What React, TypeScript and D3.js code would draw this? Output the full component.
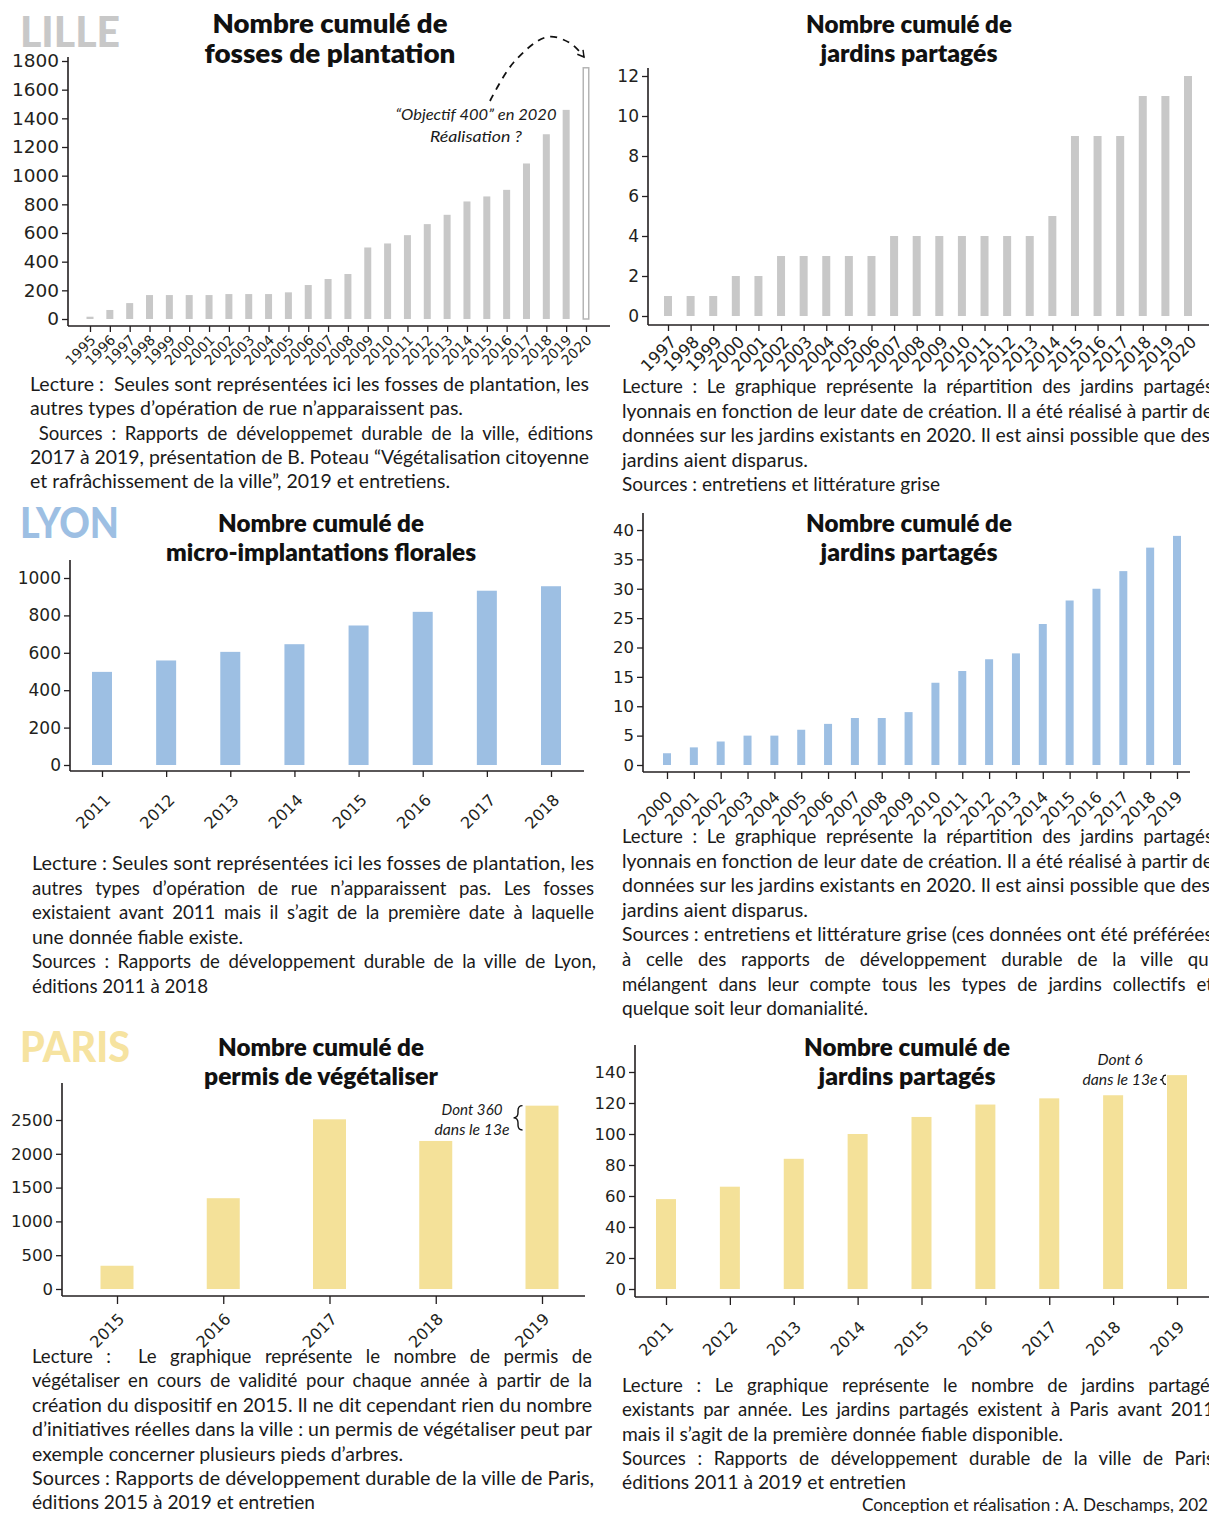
import React, { useEffect, useRef } from "react";
import * as d3 from "d3";

const W = 1209;
const H = 1513;

const TEXT_FONT = "Lato, 'Open Sans', sans-serif";
const TICK_FONT = "'DejaVu Sans', Verdana, sans-serif";
const INK = "#231f20";

const GREY = "#c8c8c8";
const BLUE = "#9dbfe3";
const YELLOW = "#f4e199";

// ---- data -------------------------------------------------------------
const lilleFossesYears = ["1995", "1996", "1997", "1998", "1999", "2000", "2001", "2002", "2003", "2004", "2005", "2006", "2007", "2008", "2009", "2010", "2011", "2012", "2013", "2014", "2015", "2016", "2017", "2018", "2019", "2020"];
const lilleFossesValues = [16, 63, 111, 167, 167, 167, 167, 174, 174, 174, 186, 237, 279, 314, 499, 527, 585, 662, 727, 820, 855, 901, 1085, 1289, 1459, 1758];
const lilleFossesTicks = [0, 200, 400, 600, 800, 1000, 1200, 1400, 1600, 1800];
const lilleFossesProjected = ["2020"];

const lilleJardinsYears = ["1997", "1998", "1999", "2000", "2001", "2002", "2003", "2004", "2005", "2006", "2007", "2008", "2009", "2010", "2011", "2012", "2013", "2014", "2015", "2016", "2017", "2018", "2019", "2020"];
const lilleJardinsValues = [1, 1, 1, 2, 2, 3, 3, 3, 3, 3, 4, 4, 4, 4, 4, 4, 4, 5, 9, 9, 9, 11, 11, 12];
const lilleJardinsTicks = [0, 2, 4, 6, 8, 10, 12];

const lyonMicroYears = ["2011", "2012", "2013", "2014", "2015", "2016", "2017", "2018"];
const lyonMicroValues = [498, 559, 605, 646, 746, 819, 932, 956];
const lyonMicroTicks = [0, 200, 400, 600, 800, 1000];

const lyonJardinsYears = ["2000", "2001", "2002", "2003", "2004", "2005", "2006", "2007", "2008", "2009", "2010", "2011", "2012", "2013", "2014", "2015", "2016", "2017", "2018", "2019"];
const lyonJardinsValues = [2, 3, 4, 5, 5, 6, 7, 8, 8, 9, 14, 16, 18, 19, 24, 28, 30, 33, 37, 39];
const lyonJardinsTicks = [0, 5, 10, 15, 20, 25, 30, 35, 40];

const parisPermisYears = ["2015", "2016", "2017", "2018", "2019"];
const parisPermisValues = [344, 1343, 2510, 2190, 2712];
const parisPermisTicks = [0, 500, 1000, 1500, 2000, 2500];
const parisPermis13e = 360;

const parisJardinsYears = ["2011", "2012", "2013", "2014", "2015", "2016", "2017", "2018", "2019"];
const parisJardinsValues = [58, 66, 84, 100, 111, 119, 123, 125, 138];
const parisJardinsTicks = [0, 20, 40, 60, 80, 100, 120, 140];
const parisJardins13e = 6;

// ---- texts ------------------------------------------------------------
const lilleFossesTitle = ["Nombre cumulé de", "fosses de plantation"];
const jardinsTitle = ["Nombre cumulé de", "jardins partagés"];
const lyonMicroTitle = ["Nombre cumulé de", "micro-implantations florales"];
const parisPermisTitle = ["Nombre cumulé de", "permis de végétaliser"];

const lilleFossesNote = [
  "Lecture :  Seules sont représentées ici les fosses de plantation, les",
  "autres types d’opération de rue n’apparaissent pas.",
  " Sources : Rapports de développemet durable de la ville, éditions",
  "2017 à 2019, présentation de B. Poteau “Végétalisation citoyenne",
  "et rafrâchissement de la ville”, 2019 et entretiens.",
];
const lyonJardinsCore = [
  "Lecture : Le graphique représente la répartition des jardins partagés",
  "lyonnais en fonction de leur date de création. Il a été réalisé à partir de",
  "données sur les jardins existants en 2020. Il est ainsi possible que des",
  "jardins aient disparus.",
];
const lilleJardinsNote = [...lyonJardinsCore, "Sources : entretiens et littérature grise"];
const lyonMicroNote = [
  "Lecture : Seules sont représentées ici les fosses de plantation, les",
  "autres types d’opération de rue n’apparaissent pas. Les fosses",
  "existaient avant 2011 mais il s’agit de la première date à laquelle",
  "une donnée fiable existe.",
  "Sources : Rapports de développement durable de la ville de Lyon,",
  "éditions 2011 à 2018",
];
const lyonJardinsNote = [
  ...lyonJardinsCore,
  "Sources : entretiens et littérature grise (ces données ont été préférées",
  "à celle des rapports de développement durable de la ville qui",
  "mélangent dans leur compte tous les types de jardins collectifs et",
  "quelque soit leur domanialité.",
];
const parisPermisNote = [
  "Lecture :  Le graphique représente le nombre de permis de",
  "végétaliser en cours de validité pour chaque année à partir de la",
  "création du dispositif en 2015. Il ne dit cependant rien du nombre",
  "d’initiatives réelles dans la ville : un permis de végétaliser peut par",
  "exemple concerner plusieurs pieds d’arbres.",
  "Sources : Rapports de développement durable de la ville de Paris,",
  "éditions 2015 à 2019 et entretien",
];
const parisJardinsNote = [
  "Lecture : Le graphique représente le nombre de jardins partagés",
  "existants par année. Les jardins partagés existent à Paris avant 2011",
  "mais il s’agit de la première donnée fiable disponible.",
  "Sources : Rapports de développement durable de la ville de Paris",
  "éditions 2011 à 2019 et entretien",
];
const credit = "Conception et réalisation : A. Deschamps, 2021";

// ---- layout -----------------------------------------------------------
type Layout = {
  axisX: number; axisTop: number; baseY: number; topPx: number;
  xAxisY: number; xAxisEnd: number; firstX: number; lastX: number; barW: number;
  yFont: number; xFont: number; xTick: number; ldx: number; ldy: number;
};

const L1: Layout = { axisX: 68, axisTop: 57, baseY: 319, topPx: 61, xAxisY: 326, xAxisEnd: 610, firstX: 90, lastX: 586, barW: 7, yFont: 18.5, xFont: 14, xTick: 6, ldx: 6, ldy: 15 };
const L2: Layout = { axisX: 648, axisTop: 68, baseY: 316, topPx: 76, xAxisY: 325, xAxisEnd: 1209, firstX: 668, lastX: 1188, barW: 8, yFont: 17, xFont: 16.5, xTick: 6, ldx: 9, ldy: 18 };
const L3: Layout = { axisX: 70, axisTop: 560, baseY: 765, topPx: 578, xAxisY: 771, xAxisEnd: 584, firstX: 102, lastX: 551, barW: 20, yFont: 17, xFont: 16, xTick: 6, ldx: 9, ldy: 30 };
const L4: Layout = { axisX: 643, axisTop: 513, baseY: 765, topPx: 530, xAxisY: 772, xAxisEnd: 1190, firstX: 667, lastX: 1177, barW: 8, yFont: 16.5, xFont: 16, xTick: 7, ldx: 6, ldy: 26 };
const L5: Layout = { axisX: 62, axisTop: 1083, baseY: 1289, topPx: 1120, xAxisY: 1296, xAxisEnd: 585, firstX: 117, lastX: 542, barW: 33, yFont: 16.5, xFont: 16, xTick: 8, ldx: 8, ldy: 24 };
const L6: Layout = { axisX: 635, axisTop: 1045, baseY: 1289, topPx: 1072, xAxisY: 1297, xAxisEnd: 1209, firstX: 666, lastX: 1177, barW: 20, yFont: 16.5, xFont: 16, xTick: 8, ldx: 8, ldy: 31 };

function makeScales(years: string[], ticks: number[], L: Layout) {
  const x = d3.scalePoint<string>().domain(years).range([L.firstX, L.lastX]);
  const y = d3.scaleLinear().domain([0, ticks[ticks.length - 1]]).range([L.baseY, L.topPx]);
  return { x, y };
}

type ChartProps = {
  years: string[];
  values: number[];
  ticks: number[];
  color: string;
  L: Layout;
  outlined?: string[];
};

function BarChart({ years, values, ticks, color, L, outlined = [] }: ChartProps) {
  const yRef = useRef<SVGGElement>(null);
  const xRef = useRef<SVGGElement>(null);
  const { x, y } = makeScales(years, ticks, L);

  useEffect(() => {
    const gy = d3.select(yRef.current!);
    gy.call(d3.axisLeft(y).tickValues(ticks).tickSize(6).tickPadding(3).tickFormat(d3.format("d")) as any);
    gy.select(".domain").remove();
    gy.attr("font-family", TICK_FONT).attr("font-size", L.yFont);
    gy.selectAll("line").attr("stroke", INK).attr("stroke-width", 1.3);
    gy.selectAll("text").attr("fill", INK);

    const gx = d3.select(xRef.current!);
    gx.call(d3.axisBottom(x).tickSize(L.xTick) as any);
    gx.select(".domain").remove();
    gx.attr("font-family", TICK_FONT).attr("font-size", L.xFont);
    gx.selectAll("line").attr("stroke", INK).attr("stroke-width", 1.3);
    gx.selectAll("text")
      .attr("fill", INK)
      .attr("x", 0)
      .attr("y", 0)
      .attr("dy", null)
      .attr("text-anchor", "end")
      .attr("transform", `translate(${L.ldx},${L.ldy}) rotate(-45)`);
  }, []);

  return (
    <g>
      {years.map((yr, i) => {
        const open = outlined.includes(yr);
        return (
          <rect
            key={yr}
            x={x(yr)! - L.barW / 2 + (open ? 0.75 : 0)}
            y={y(values[i]) + (open ? 0.75 : 0)}
            width={L.barW - (open ? 1.5 : 0)}
            height={y(0) - y(values[i]) - (open ? 0.75 : 0)}
            fill={open ? "#fff" : color}
            stroke={open ? "#b5b5b5" : "none"}
            strokeWidth={open ? 1.5 : 0}
          />
        );
      })}
      <line x1={L.axisX} x2={L.axisX} y1={L.axisTop} y2={L.xAxisY} stroke={INK} strokeWidth={1.6} />
      <line x1={L.axisX} x2={L.xAxisEnd} y1={L.xAxisY} y2={L.xAxisY} stroke={INK} strokeWidth={1.6} />
      <g ref={yRef} transform={`translate(${L.axisX},0)`} />
      <g ref={xRef} transform={`translate(0,${L.xAxisY})`} />
    </g>
  );
}

function Title({ lines, cx, y0, dy, size, widths }: { lines: string[]; cx: number; y0: number; dy: number; size: number; widths: number[] }) {
  return (
    <g fontFamily={TEXT_FONT} fontWeight={800} fontSize={size} fill="#111" textAnchor="middle">
      {lines.map((t, i) => (
        <text key={i} x={cx} y={y0 + i * dy} textLength={widths[i]} lengthAdjust="spacingAndGlyphs">
          {t}
        </text>
      ))}
    </g>
  );
}

function Note({ lines, x, y0, lh, widths }: { lines: string[]; x: number; y0: number; lh: number; widths: number[] }) {
  return (
    <g fontFamily={TEXT_FONT} fontSize={18.6} fill="#1a1a1a">
      {lines.map((t, i) => (
        <text key={i} className="fit" data-w={widths[i]} x={x} y={y0 + i * lh} style={{ whiteSpace: "pre" }}>
          {t}
        </text>
      ))}
    </g>
  );
}

function brace(xr: number, y1: number, y2: number, w: number) {
  const m = (y1 + y2) / 2;
  const k = Math.min(5, (y2 - y1) / 4);
  const p = d3.path();
  p.moveTo(xr, y1);
  p.quadraticCurveTo(xr - w / 2, y1, xr - w / 2, y1 + k);
  p.lineTo(xr - w / 2, m - k);
  p.quadraticCurveTo(xr - w / 2, m, xr - w, m);
  p.quadraticCurveTo(xr - w / 2, m, xr - w / 2, m + k);
  p.lineTo(xr - w / 2, y2 - k);
  p.quadraticCurveTo(xr - w / 2, y2, xr, y2);
  return p.toString();
}

export default function App() {
  const svgRef = useRef<SVGSVGElement>(null);

  useEffect(() => {
    const fit = () => {
      d3.select(svgRef.current).selectAll<SVGTextElement, unknown>("text.fit").each(function () {
        const target = +(this.getAttribute("data-w") || 0);
        this.removeAttribute("textLength");
        this.removeAttribute("lengthAdjust");
        this.style.wordSpacing = "";
        const w = this.getComputedTextLength();
        const spaces = (this.textContent || "").split(" ").length - 1;
        const extra = target - w;
        if (Math.abs(extra) / w < 0.07 || extra < 0 || spaces === 0) {
          this.setAttribute("textLength", String(target));
          this.setAttribute("lengthAdjust", "spacingAndGlyphs");
        } else {
          this.style.wordSpacing = `${extra / spaces}px`;
        }
      });
    };
    fit();
    if ((document as any).fonts) (document as any).fonts.ready.then(fit);
  }, []);

  // annotation anchors from scales
  const s1 = makeScales(lilleFossesYears, lilleFossesTicks, L1);
  const s5 = makeScales(parisPermisYears, parisPermisTicks, L5);
  const s6 = makeScales(parisJardinsYears, parisJardinsTicks, L6);
  const last5 = parisPermisYears.length - 1;
  const last6 = parisJardinsYears.length - 1;
  const pTop = s5.y(parisPermisValues[last5]);
  const pBot = s5.y(parisPermisValues[last5] - parisPermis13e);
  const pX = s5.x(parisPermisYears[last5])! - L5.barW / 2 - 3;
  const jTop = s6.y(parisJardinsValues[last6]);
  const jBot = s6.y(parisJardinsValues[last6] - parisJardins13e);
  const jX = s6.x(parisJardinsYears[last6])! - L6.barW / 2 - 1;

  const endX = s1.x("2020")!;
  const endY = s1.y(lilleFossesValues[lilleFossesValues.length - 1]);
  const arrowPts: [number, number][] = [
    [490, 101],
    [514, 62],
    [547, 37],
    [570, 43],
    [endX - 2, endY - 10],
  ];
  const arrowPath = d3.line().curve(d3.curveCatmullRom)(arrowPts) || "";

  return (
    <svg
      ref={svgRef}
      width={W}
      height={H}
      viewBox={`0 0 ${W} ${H}`}
      style={{ position: "absolute", left: 0, top: 0, background: "#fff" }}
    >
      <defs>
        <marker id="arr" viewBox="0 0 10 10" refX="8" refY="5" markerWidth="9" markerHeight="9" markerUnits="userSpaceOnUse" orient="auto">
          <path d="M1,1 L8,5 L1,9" fill="none" stroke="#111" strokeWidth={1.6} />
        </marker>
      </defs>

      {/* city labels */}
      <g fontFamily={TEXT_FONT} fontWeight={900} fontSize={42}>
        <text x={20} y={47} fill={GREY} textLength={100} lengthAdjust="spacingAndGlyphs">LILLE</text>
        <text x={20} y={538} fill={BLUE} textLength={99} lengthAdjust="spacingAndGlyphs">LYON</text>
        <text x={20} y={1062} fill="#f6e3a0" textLength={110} lengthAdjust="spacingAndGlyphs">PARIS</text>
      </g>

      {/* titles */}
      <Title lines={lilleFossesTitle} cx={330} y0={33} dy={30} size={26} widths={[235, 251]} />
      <Title lines={jardinsTitle} cx={909} y0={33} dy={29} size={24} widths={[206, 177]} />
      <Title lines={lyonMicroTitle} cx={321} y0={532} dy={29} size={24} widths={[206, 310]} />
      <Title lines={jardinsTitle} cx={909} y0={532} dy={29} size={24} widths={[206, 177]} />
      <Title lines={parisPermisTitle} cx={321} y0={1056} dy={29} size={24} widths={[206, 234]} />
      <Title lines={jardinsTitle} cx={907} y0={1056} dy={29} size={24} widths={[206, 177]} />

      {/* charts */}
      <BarChart years={lilleFossesYears} values={lilleFossesValues} ticks={lilleFossesTicks} color={GREY} L={L1} outlined={lilleFossesProjected} />
      <BarChart years={lilleJardinsYears} values={lilleJardinsValues} ticks={lilleJardinsTicks} color={GREY} L={L2} />
      <BarChart years={lyonMicroYears} values={lyonMicroValues} ticks={lyonMicroTicks} color={BLUE} L={L3} />
      <BarChart years={lyonJardinsYears} values={lyonJardinsValues} ticks={lyonJardinsTicks} color={BLUE} L={L4} />
      <BarChart years={parisPermisYears} values={parisPermisValues} ticks={parisPermisTicks} color={YELLOW} L={L5} />
      <BarChart years={parisJardinsYears} values={parisJardinsValues} ticks={parisJardinsTicks} color={YELLOW} L={L6} />

      {/* annotations */}
      <path d={arrowPath} fill="none" stroke="#111" strokeWidth={1.8} strokeDasharray="7 6" markerEnd="url(#arr)" />
      <g fontFamily={TEXT_FONT} fontStyle="italic" fontSize={16} fill="#1a1a1a" textAnchor="middle">
        <text x={476} y={120} textLength={161} lengthAdjust="spacingAndGlyphs">“Objectif 400” en 2020</text>
        <text x={476} y={142} textLength={92} lengthAdjust="spacingAndGlyphs">Réalisation ?</text>
      </g>
      <g fontFamily={TEXT_FONT} fontStyle="italic" fontSize={15} fill="#1a1a1a" textAnchor="middle">
        <text x={472} y={1115} textLength={61} lengthAdjust="spacingAndGlyphs">Dont 360</text>
        <text x={472} y={1135} textLength={75} lengthAdjust="spacingAndGlyphs">dans le 13e</text>
        <text x={1120} y={1065} textLength={45} lengthAdjust="spacingAndGlyphs">Dont 6</text>
        <text x={1120} y={1085} textLength={75} lengthAdjust="spacingAndGlyphs">dans le 13e</text>
      </g>
      <path d={brace(pX, pTop, pBot, 9)} fill="none" stroke="#111" strokeWidth={1.4} />
      <path d={brace(jX, jTop, jBot, 6)} fill="none" stroke="#111" strokeWidth={1.1} />

      {/* notes */}
      <Note lines={lilleFossesNote} x={30} y0={391} lh={24.3} widths={[559, 433, 563, 559, 420]} />
      <Note lines={lilleJardinsNote} x={622} y0={393} lh={24.5} widths={[591, 591, 588, 186, 318]} />
      <Note lines={lyonMicroNote} x={32} y0={870} lh={24.6} widths={[562, 562, 562, 211, 564, 176]} />
      <Note lines={lyonJardinsNote} x={622} y0={843} lh={24.6} widths={[591, 591, 588, 186, 591, 591, 591, 246]} />
      <Note lines={parisPermisNote} x={32} y0={1363} lh={24.4} widths={[560, 560, 560, 560, 371, 562, 283]} />
      <Note lines={parisJardinsNote} x={622} y0={1392} lh={24.3} widths={[596, 592, 441, 592, 284]} />
      <g fontFamily={TEXT_FONT} fontSize={18} fill="#1a1a1a">
        <text className="fit" data-w={356} x={862} y={1511}>{credit}</text>
      </g>
    </svg>
  );
}
